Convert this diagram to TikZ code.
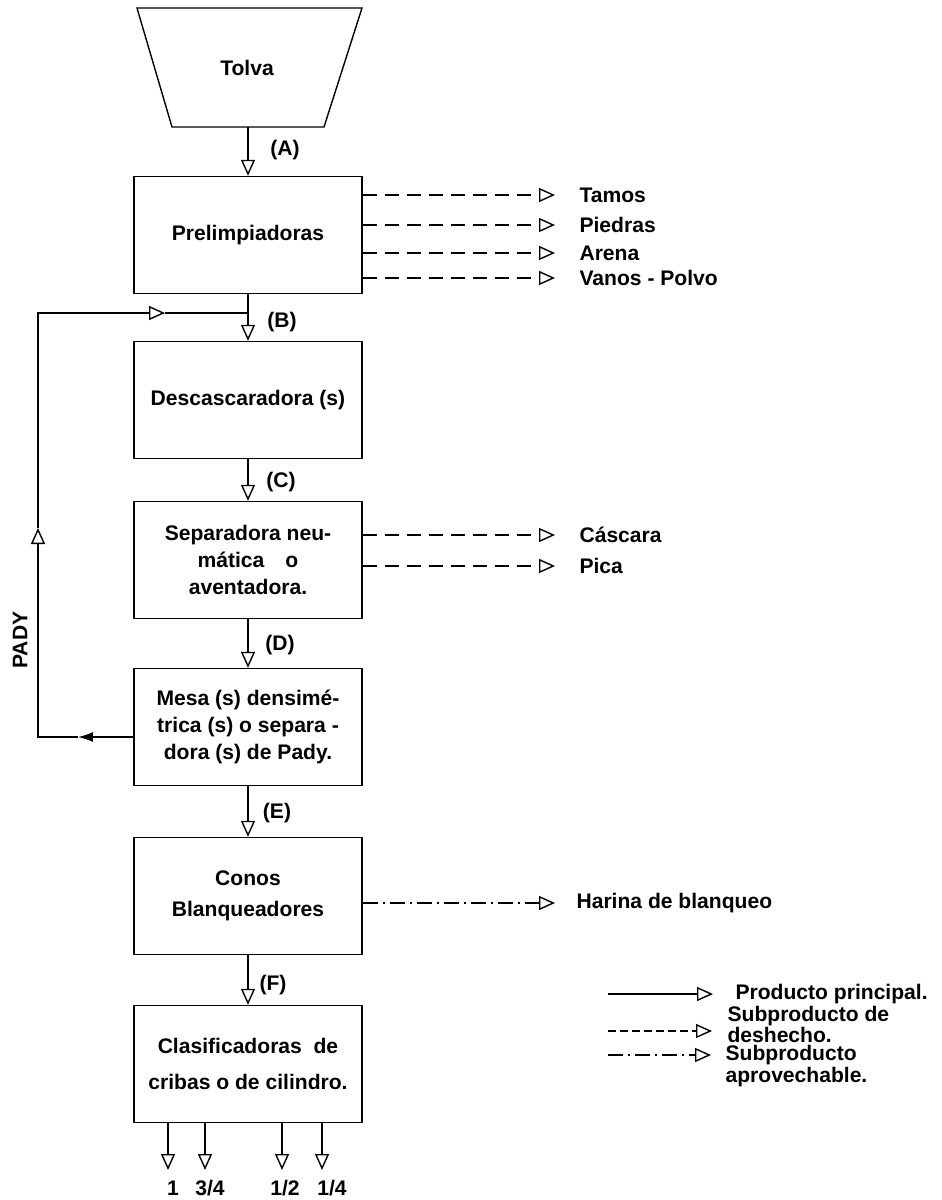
\documentclass[tikz,border=0pt]{standalone}
\usepackage{fontspec}
\setsansfont{Liberation Sans}
\usetikzlibrary{arrows.meta}

\tikzset{
  caja/.style={draw, minimum width=4.56cm, minimum height=2.34cm, align=center, inner sep=3pt},
  flecha/.style={-{Triangle[open,length=0.32cm,width=0.28cm]}},
  desecho/.style={flecha, dash pattern=on 0.28cm off 0.16cm},
  aprovechable/.style={flecha, dash pattern=on 0.3cm off 0.1cm on 0.04cm off 0.1cm},
  salida/.style={anchor=west},
  leyenda/.style={anchor=west, align=left, font=\sffamily\bfseries\fontsize{12}{12}\selectfont}
}

\begin{document}
\begin{tikzpicture}[x=0.02cm, y=-0.02cm, line width=0.8pt,
  font=\sffamily\bfseries\fontsize{12}{15.5}\selectfont]
\useasboundingbox (0,0) rectangle (942,1200);

% tolva
\draw (137,8) -- (362,8) -- (324,127) -- (172,127) -- cycle;
\node (tolva) at (247,68) {Tolva};
\coordinate (tolvab) at (248,127);

% cajas
\node[caja] (pre) at (248,235) {Prelimpiadoras};
\node[caja] (desc) at (248,400) {Descascaradora (s)};
\node[caja] (sep) at (248,560) {Separadora neu-\\m\'atica\quad o\\aventadora.};
\node[caja] (mesa) at (248,727) {Mesa (s) densim\'e-\\trica (s) o separa -\\dora (s) de Pady.};
\node[caja, font=\sffamily\bfseries\fontsize{12}{18}\selectfont] (conos) at (248,896) {Conos\\Blanqueadores};
\node[caja, font=\sffamily\bfseries\fontsize{12}{20}\selectfont] (clas) at (248,1064) {Clasificadoras\ \ de\\cribas o de cilindro.};

% linea principal
\draw[flecha] (tolvab) -- (pre.north);
\draw[flecha] (pre.south) -- (desc.north);
\draw[flecha] (desc.south) -- (sep.north);
\draw[flecha] (sep.south) -- (mesa.north);
\draw[flecha] (mesa.south) -- (conos.north);
\draw[flecha] (conos.south) -- (clas.north);

\node (a) at (285,150) {(A)};
\node (b) at (282,322) {(B)};
\node (c) at (281,482) {(C)};
\node (d) at (280,645) {(D)};
\node (e) at (277,813) {(E)};
\node (f) at (273,985) {(F)};

% subproductos
\node[salida] (tamos) at (573,195) {Tamos};
\node[salida] (piedras) at (573,225) {Piedras};
\node[salida] (arena) at (573,253) {Arena};
\node[salida] (vanos) at (573,278) {Vanos - Polvo};
\draw[desecho, shorten >=0.36cm] (pre.east |- tamos.west) -- (tamos.west);
\draw[desecho, shorten >=0.36cm] (pre.east |- piedras.west) -- (piedras.west);
\draw[desecho, shorten >=0.36cm] (pre.east |- arena.west) -- (arena.west);
\draw[desecho, shorten >=0.36cm] (pre.east |- vanos.west) -- (vanos.west);

\node[salida] (cascara) at (573,535) {C\'ascara};
\node[salida] (pica) at (573,566) {Pica};
\draw[desecho, shorten >=0.36cm] (sep.east |- cascara.west) -- (cascara.west);
\draw[desecho, shorten >=0.36cm] (sep.east |- pica.west) -- (pica.west);

\node[salida] (harina) at (570,903) {Harina de blanqueo};
\draw[aprovechable, shorten >=0.3cm] (conos.east |- harina.west) -- (harina.west);

% retorno de pady
\coordinate (r0) at (mesa.west |- 0,737);
\coordinate (r1) at (78,737);
\coordinate (r2) at (38,737);
\coordinate (r3) at (38,528);
\coordinate (r4) at (38,313);
\coordinate (r5) at (165,313);
\coordinate (r6) at (pre.south |- r4);
\draw[-{Latex[length=0.3cm,width=0.2cm]}] (r0) -- (r1);
\draw[flecha] (r1) -- (r2) -- (r3);
\draw[flecha] (r3) -- (r4) -- (r5);
\draw (r5) -- (r6);
\node[rotate=90] (pady) at (20,640) {PADY};

% salidas de clasificadoras
\coordinate (s1) at (168,1170);
\coordinate (s2) at (205,1170);
\coordinate (s3) at (282,1170);
\coordinate (s4) at (322,1170);
\draw[flecha] (clas.south -| s1) -- (s1);
\draw[flecha] (clas.south -| s2) -- (s2);
\draw[flecha] (clas.south -| s3) -- (s3);
\draw[flecha] (clas.south -| s4) -- (s4);
\node (o1) at (173,1188) {1};
\node (o2) at (210,1188) {3/4};
\node (o3) at (285,1188) {1/2};
\node (o4) at (332,1188) {1/4};

% leyenda
\node[leyenda] (lp) at (729,994) {Producto principal.};
\node[leyenda] (ld) at (721,1024) {Subproducto de\\deshecho.};
\node[leyenda] (la) at (719,1066) {Subproducto\\aprovechable.};
\coordinate (lp0) at (608,994);
\coordinate (ld0) at (608,1031);
\coordinate (la0) at (608,1055);
\draw[flecha, shorten >=0.32cm] (lp0) -- (lp0 -| lp.west);
\draw[desecho, dash pattern=on 0.16cm off 0.08cm, shorten >=0.18cm] (ld0) -- (ld0 -| ld.west);
\draw[aprovechable, shorten >=0.16cm] (la0) -- (la0 -| la.west);

\end{tikzpicture}
\end{document}
